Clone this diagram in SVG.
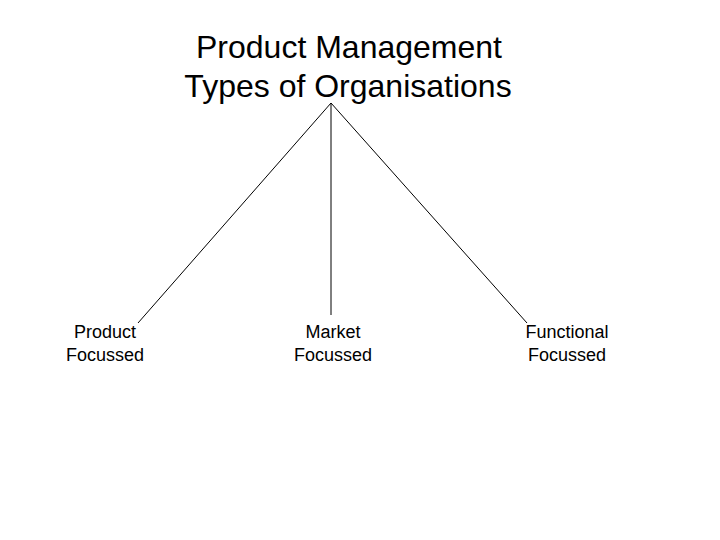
<svg xmlns="http://www.w3.org/2000/svg" width="720" height="540" viewBox="0 0 720 540">
<style>
.t{font-family:"Liberation Sans",Arial,sans-serif;fill:#000;text-anchor:middle}
.title{font-size:32px}
.lbl{font-size:18px}
.c{stroke:#000;stroke-width:1;fill:none}
</style>
<rect width="720" height="540" fill="#fff"/>
<g id="root">
<text class="t title" x="349" y="58">Product Management</text>
<text class="t title" x="348" y="97">Types of Organisations</text>
</g>
<g id="connectors">
<line class="c" x1="331" y1="103" x2="138" y2="323"/>
<line class="c" x1="331" y1="103" x2="331" y2="315"/>
<line class="c" x1="331" y1="103" x2="527" y2="323"/>
</g>
<g id="product">
<text class="t lbl" x="105" y="338">Product</text>
<text class="t lbl" x="105" y="361">Focussed</text>
</g>
<g id="market">
<text class="t lbl" x="333" y="338">Market</text>
<text class="t lbl" x="333" y="361">Focussed</text>
</g>
<g id="functional">
<text class="t lbl" x="567" y="338">Functional</text>
<text class="t lbl" x="567" y="361">Focussed</text>
</g>
</svg>
